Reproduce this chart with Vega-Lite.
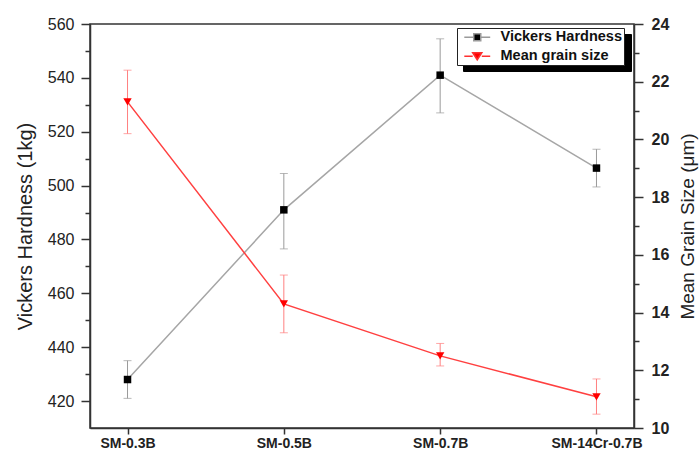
{
  "$schema": "https://vega.github.io/schema/vega-lite/v6.json",
  "autosize": {"type": "none"},
  "padding": {"left": 90, "top": 24, "right": 65, "bottom": 29},
  "width": 544,
  "height": 404,
  "background": "white",
  "config": {
    "font": "Liberation Sans",
    "view": {"stroke": "#333333", "strokeWidth": 1.5},
    "axis": {"domainColor": "#333333", "domainWidth": 1.5, "tickColor": "#333333", "tickWidth": 1.5, "grid": false, "labelColor": "#222222", "titleColor": "#222222", "labelFont": "Liberation Sans", "titleFont": "Liberation Sans"},
    "legend": {
      "title": null, "orient": "none", "legendX": 367, "legendY": 4, "direction": "vertical",
      "fillColor": "white", "strokeColor": "#222222", "padding": 2,
      "labelFont": "Liberation Sans", "labelFontSize": 14.5, "labelFontWeight": "bold", "labelColor": "#111111",
      "symbolSize": 49, "symbolOffset": 11, "labelOffset": 16, "rowPadding": 4,
      "symbolStrokeWidth": 1.5, "symbolOpacity": 1, "zindex": 2
    }
  },
  "data": {"values": [
    {"sample": "SM-0.3B", "series": "Vickers Hardness", "value": 428, "lo": 421, "hi": 435},
    {"sample": "SM-0.5B", "series": "Vickers Hardness", "value": 491, "lo": 476.5, "hi": 504.5},
    {"sample": "SM-0.7B", "series": "Vickers Hardness", "value": 541, "lo": 527, "hi": 554.5},
    {"sample": "SM-14Cr-0.7B", "series": "Vickers Hardness", "value": 506.5, "lo": 499.5, "hi": 513.5},
    {"sample": "SM-0.3B", "series": "Mean grain size", "value": 21.3, "lo": 20.2, "hi": 22.4},
    {"sample": "SM-0.5B", "series": "Mean grain size", "value": 14.3, "lo": 13.3, "hi": 15.3},
    {"sample": "SM-0.7B", "series": "Mean grain size", "value": 12.5, "lo": 12.15, "hi": 12.93},
    {"sample": "SM-14Cr-0.7B", "series": "Mean grain size", "value": 11.08, "lo": 10.48, "hi": 11.7}
  ]},
  "encoding": {
    "x": {
      "field": "sample", "type": "nominal",
      "sort": ["SM-0.3B", "SM-0.5B", "SM-0.7B", "SM-14Cr-0.7B"],
      "scale": {"type": "point", "padding": 0.24},
      "axis": {"title": null, "labelAngle": 0, "labelFontSize": 14, "labelFontWeight": "bold", "tickSize": 6, "labelPadding": 2}
    }
  },
  "layer": [
    {
      "transform": [{"filter": "datum.series === 'Vickers Hardness'"}],
      "encoding": {
        "y": {"type": "quantitative", "scale": {"domain": [410, 560], "nice": false, "zero": false},
          "axis": {"title": "Vickers Hardness (1kg)", "titleFontSize": 20, "titleFontWeight": "normal", "titlePadding": 12,
            "values": [420, 430, 440, 450, 460, 470, 480, 490, 500, 510, 520, 530, 540, 550, 560],
            "labelExpr": "datum.value % 20 === 0 ? datum.label : ''",
            "labelFontSize": 16, "labelPadding": 7,
            "tickSize": {"condition": {"test": "datum.value % 20 === 0", "value": 9}, "value": 5}}}
      },
      "layer": [
        {
          "mark": {"type": "errorbar", "color": "#9a9a9a", "ticks": {"size": 8}, "rule": {"strokeWidth": 1}},
          "encoding": {
            "y": {"field": "lo", "type": "quantitative", "scale": {"domain": [410, 560], "nice": false, "zero": false},
              "axis": {"title": "Vickers Hardness (1kg)", "titleFontSize": 20, "titleFontWeight": "normal", "titlePadding": 12,
                "values": [420, 430, 440, 450, 460, 470, 480, 490, 500, 510, 520, 530, 540, 550, 560],
                "labelExpr": "datum.value % 20 === 0 ? datum.label : ''",
                "labelFontSize": 16, "labelPadding": 7,
                "tickSize": {"condition": {"test": "datum.value % 20 === 0", "value": 9}, "value": 5}}},
            "y2": {"field": "hi"}
          }
        },
        {
          "mark": {"type": "line", "color": "#a6a6a6", "strokeWidth": 1.5},
          "encoding": {"y": {"field": "value"}}
        },
        {
          "mark": {"type": "point", "shape": "square", "filled": true, "size": 56, "opacity": 1},
          "encoding": {
            "y": {"field": "value"},
            "color": {"field": "series", "type": "nominal",
              "scale": {"domain": ["Vickers Hardness", "Mean grain size"], "range": ["#000000", "#ff0000"]}}
          }
        },
        {
          "mark": {"type": "point", "filled": true, "opacity": 0},
          "encoding": {
            "y": {"field": "value"},
            "color": {"field": "series", "type": "nominal"},
            "shape": {"field": "series", "type": "nominal",
              "scale": {"domain": ["Vickers Hardness", "Mean grain size"], "range": ["M-3.7,0H-1M1,0H3.7M-1,-1H1V1H-1Z", "M-3.7,0H-1.3M1.3,0H3.7M-1.3,-1H1.3L0,1Z"]}},
            "stroke": {"field": "series", "type": "nominal",
              "scale": {"domain": ["Vickers Hardness", "Mean grain size"], "range": ["#9a9a9a", "#ff3030"]}},
            "strokeDash": {"field": "series", "type": "nominal",
              "scale": {"domain": ["Mean grain size", "Vickers Hardness"], "range": [[1, 0], [1, 0]]},
              "legend": {"legendX": 373, "legendY": 10, "zindex": 1, "fillColor": "#000000", "strokeColor": "#000000", "labelColor": "#000000", "symbolFillColor": "#000000", "symbolStrokeColor": "#000000",
                "labelExpr": "''", "labelOffset": 138}}
          }
        }
      ]
    },
    {
      "transform": [{"filter": "datum.series === 'Mean grain size'"}],
      "layer": [
        {
          "mark": {"type": "errorbar", "color": "#ff8080", "ticks": {"size": 8}, "rule": {"strokeWidth": 1}},
          "encoding": {
            "y": {"field": "lo", "type": "quantitative", "scale": {"domain": [10, 24], "nice": false, "zero": false},
              "axis": {"orient": "right", "title": "Mean Grain Size (μm)", "titleFontSize": 19, "titleFontWeight": "normal", "titlePadding": 10, "titleAngle": 270, "titleBaseline": "top",
                "values": [10, 11, 12, 13, 14, 15, 16, 17, 18, 19, 20, 21, 22, 23, 24],
                "labelExpr": "datum.value % 2 === 0 ? datum.label : ''",
                "labelFontSize": 16, "labelFontWeight": "bold", "labelPadding": 8,
                "tickSize": {"condition": {"test": "datum.value % 2 === 0", "value": 9}, "value": 5}}},
            "y2": {"field": "hi"}
          }
        },
        {
          "mark": {"type": "line", "color": "#ff4040", "strokeWidth": 1.5},
          "encoding": {
            "y": {"field": "value", "type": "quantitative", "scale": {"domain": [10, 24], "nice": false, "zero": false},
              "axis": {"orient": "right", "title": "Mean Grain Size (μm)", "titleFontSize": 19, "titleFontWeight": "normal", "titlePadding": 10, "titleAngle": 270, "titleBaseline": "top",
                "values": [10, 11, 12, 13, 14, 15, 16, 17, 18, 19, 20, 21, 22, 23, 24],
                "labelExpr": "datum.value % 2 === 0 ? datum.label : ''",
                "labelFontSize": 16, "labelFontWeight": "bold", "labelPadding": 8,
                "tickSize": {"condition": {"test": "datum.value % 2 === 0", "value": 9}, "value": 5}}}
          }
        },
        {
          "mark": {"type": "point", "shape": "triangle-down", "filled": true, "size": 70, "opacity": 1},
          "encoding": {
            "y": {"field": "value", "type": "quantitative", "scale": {"domain": [10, 24], "nice": false, "zero": false},
              "axis": {"orient": "right", "title": "Mean Grain Size (μm)", "titleFontSize": 19, "titleFontWeight": "normal", "titlePadding": 10, "titleAngle": 270, "titleBaseline": "top",
                "values": [10, 11, 12, 13, 14, 15, 16, 17, 18, 19, 20, 21, 22, 23, 24],
                "labelExpr": "datum.value % 2 === 0 ? datum.label : ''",
                "labelFontSize": 16, "labelFontWeight": "bold", "labelPadding": 8,
                "tickSize": {"condition": {"test": "datum.value % 2 === 0", "value": 9}, "value": 5}}},
            "color": {"field": "series", "type": "nominal"}
          }
        }
      ]
    }
  ],
  "resolve": {"scale": {"y": "independent"}}
}
